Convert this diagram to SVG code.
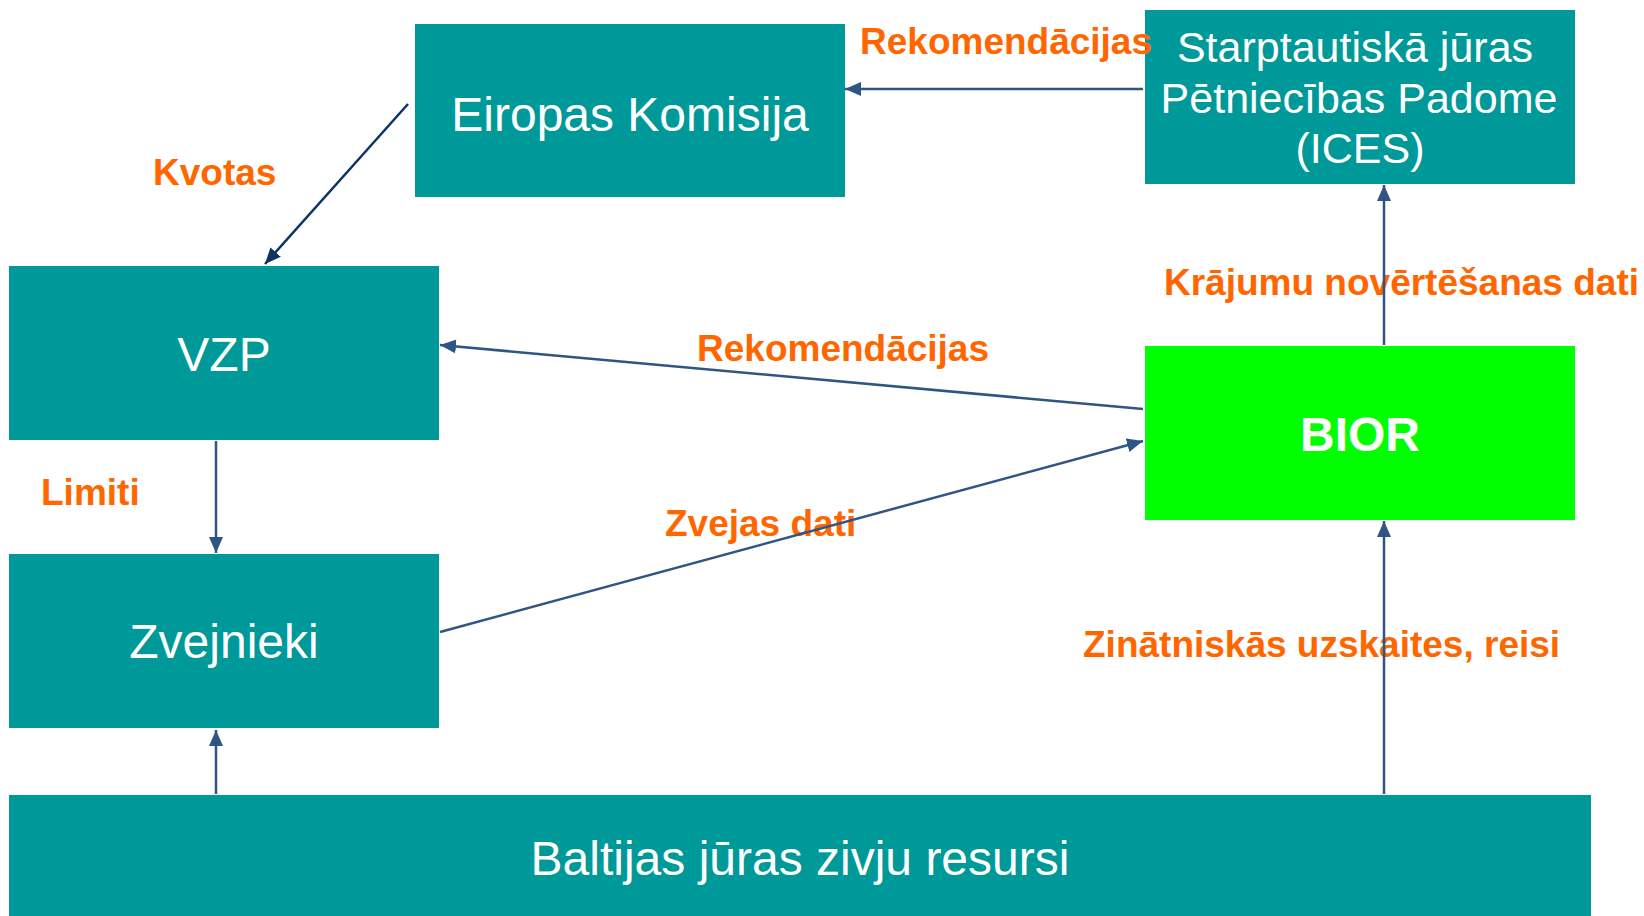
<svg xmlns="http://www.w3.org/2000/svg" width="1644" height="916" viewBox="0 0 1644 916">
<style>
.box{fill:#009999}
.bior{fill:#00FF00}
.nt{font-family:"Liberation Sans",Arial,sans-serif;font-size:48px;fill:#FFFFFF;text-anchor:middle}
.lbl{font-family:"Liberation Sans",Arial,sans-serif;font-size:37px;font-weight:bold;fill:#FF6600}
.con{stroke:#2F5585;stroke-width:2.5;fill:none}
.dark{stroke:#0B3566}
</style>
<defs>
<marker id="ah" markerUnits="userSpaceOnUse" markerWidth="18" markerHeight="16" refX="16" refY="7" orient="auto">
<path d="M0,0 L16,7 L0,14 z" fill="#2F5585"/>
</marker>
<marker id="ahd" markerUnits="userSpaceOnUse" markerWidth="18" markerHeight="16" refX="16" refY="7" orient="auto">
<path d="M0,0 L16,7 L0,14 z" fill="#0B3566"/>
</marker>
</defs>
<rect width="1644" height="916" fill="#FFFFFF"/>
<g id="ek"><rect class="box" x="415" y="24" width="430" height="173"/><text class="nt" x="630" y="131">Eiropas Komisija</text></g>
<g id="ices"><rect class="box" x="1145" y="10" width="430" height="174"/>
<text class="nt" x="1355" y="62" style="font-size:43px">Starptautiskā jūras</text>
<text class="nt" x="1359" y="113" style="font-size:43px">Pētniecības Padome</text>
<text class="nt" x="1360" y="163" style="font-size:43px">(ICES)</text></g>
<g id="vzp"><rect class="box" x="9" y="266" width="430" height="174"/><text class="nt" x="224" y="371">VZP</text></g>
<g id="zvejnieki"><rect class="box" x="9" y="554" width="430" height="174"/><text class="nt" x="224" y="658">Zvejnieki</text></g>
<g id="bior"><rect class="bior" x="1145" y="346" width="430" height="174"/><text class="nt" x="1360" y="451" style="font-weight:bold">BIOR</text></g>
<g id="baltija"><rect class="box" x="9" y="795" width="1582" height="121"/><text class="nt" x="800" y="875">Baltijas jūras zivju resursi</text></g>
<g id="labels">
<text class="lbl" x="860" y="54">Rekomendācijas</text>
<text class="lbl" x="153" y="185">Kvotas</text>
<text class="lbl" x="41" y="505">Limiti</text>
<text class="lbl" x="697" y="361">Rekomendācijas</text>
<text class="lbl" x="665" y="536">Zvejas dati</text>
<text class="lbl" x="1164" y="295">Krājumu novērtēšanas dati</text>
<text class="lbl" x="1083" y="657">Zinātniskās uzskaites, reisi</text>
</g>
<g id="connectors">
<line class="con" x1="1143" y1="89" x2="845" y2="89" marker-end="url(#ah)"/>
<line class="con dark" x1="408" y1="104" x2="265" y2="264" marker-end="url(#ahd)"/>
<line class="con" x1="1143" y1="409" x2="440" y2="345" marker-end="url(#ah)"/>
<line class="con" x1="440" y1="632" x2="1143" y2="441" marker-end="url(#ah)"/>
<line class="con" x1="216" y1="441" x2="216" y2="553" marker-end="url(#ah)"/>
<line class="con" x1="216" y1="794" x2="216" y2="730" marker-end="url(#ah)"/>
<line class="con" x1="1384" y1="794" x2="1384" y2="521" marker-end="url(#ah)"/>
<line class="con" x1="1384" y1="345" x2="1384" y2="185" marker-end="url(#ah)"/>
</g>
</svg>
